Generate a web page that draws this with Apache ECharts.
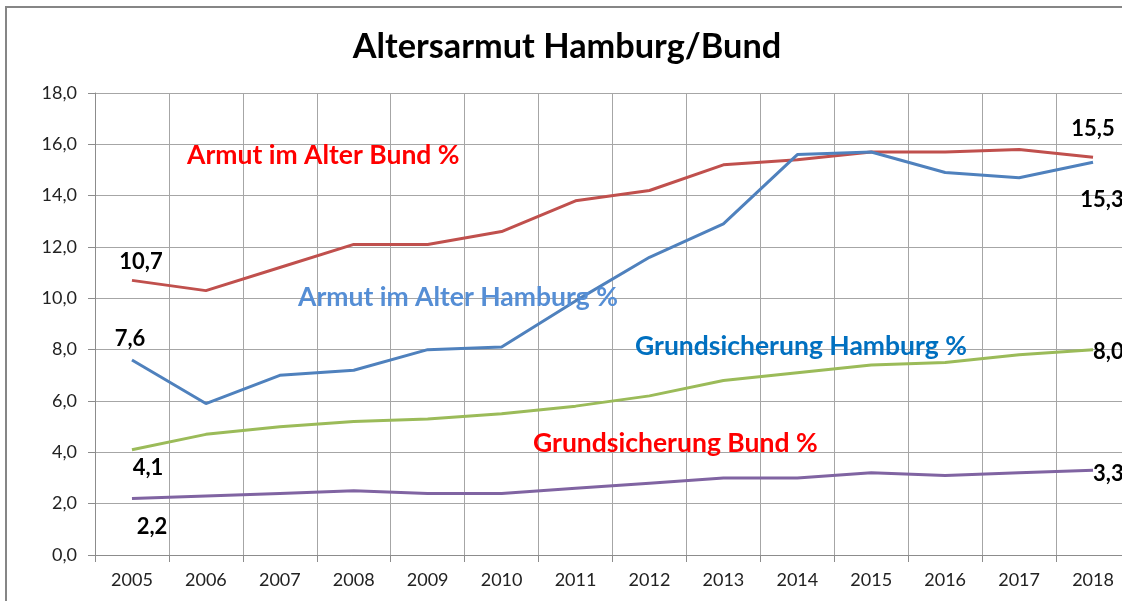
<!DOCTYPE html>
<html>
<head>
<meta charset="utf-8">
<script src="https://cdn.jsdelivr.net/npm/echarts@6/dist/echarts.min.js"></script>
<style>
  html, body { margin: 0; padding: 0; background: #fff; }
  #altersarmut { width: 1122px; height: 601px; }
</style>
</head>
<body>
<div id="altersarmut"></div>
<script>
var jahre = ['2005', '2006', '2007', '2008', '2009', '2010', '2011', '2012', '2013', '2014', '2015', '2016', '2017', '2018'];
var armutBund = [10.7, 10.3, 11.2, 12.1, 12.1, 12.6, 13.8, 14.2, 15.2, 15.4, 15.7, 15.7, 15.8, 15.5];
var armutHamburg = [7.6, 5.9, 7.0, 7.2, 8.0, 8.1, 9.9, 11.6, 12.9, 15.6, 15.7, 14.9, 14.7, 15.3];
var grundHamburg = [4.1, 4.7, 5.0, 5.2, 5.3, 5.5, 5.8, 6.2, 6.8, 7.1, 7.4, 7.5, 7.8, 8.0];
var grundBund = [2.2, 2.3, 2.4, 2.5, 2.4, 2.4, 2.6, 2.8, 3.0, 3.0, 3.2, 3.1, 3.2, 3.3];

var schrift = 'Lato, "Open Sans", sans-serif';

function komma(v) {
    return v.toFixed(1).replace('.', ',');
}

// nur erster und letzter Wert bekommen eine Beschriftung
function mitLabels(werte, ersterLabel, letzterLabel) {
    return werte.map(function (v, i) {
        var item = { value: v };
        var lab = null;
        if (i === 0) lab = ersterLabel;
        if (i === werte.length - 1) lab = letzterLabel;
        if (lab) {
            item.label = Object.assign({
                show: true,
                color: '#000',
                fontWeight: 'bold',
                fontSize: 22,
                fontFamily: schrift,
                formatter: function (p) { return komma(p.value); }
            }, lab);
        }
        return item;
    });
}

function linie(name, farbe, daten) {
    return {
        name: name,
        type: 'line',
        data: daten,
        symbol: 'circle',
        symbolSize: 0,
        showSymbol: true,
        smooth: false,
        lineStyle: { color: farbe, width: 3 },
        itemStyle: { color: farbe },
        label: { show: false },
        emphasis: { disabled: true },
        z: 3
    };
}

var chart = echarts.init(document.getElementById('altersarmut'));

option = {
    animation: false,
    backgroundColor: '#fff',
    // Diagramm ragt rechts über den Bildrand hinaus
    grid: { left: 95, top: 93, width: 1035, height: 462, containLabel: false, outerBoundsMode: 'none' },
    xAxis: {
        type: 'category',
        data: jahre,
        boundaryGap: true,
        axisLine: { lineStyle: { color: '#8c8c8c', width: 1 } },
        axisTick: { show: true, interval: 0, length: 7, lineStyle: { color: '#8c8c8c' } },
        axisLabel: { interval: 0, color: '#222', fontSize: 18, fontFamily: schrift, margin: 16 },
        splitLine: { show: true, interval: 0, lineStyle: { color: '#a6a6a6', width: 1 } }
    },
    yAxis: {
        type: 'value',
        min: 0,
        max: 18,
        interval: 2,
        axisLine: { show: true, lineStyle: { color: '#8c8c8c' } },
        axisTick: { show: true, length: 7, lineStyle: { color: '#8c8c8c' } },
        axisLabel: {
            color: '#222', fontSize: 18, fontFamily: schrift, margin: 18,
            formatter: function (v) { return komma(v); }
        },
        splitLine: { show: true, lineStyle: { color: '#a6a6a6', width: 1 } }
    },
    series: [
        linie('Armut im Alter Bund %', '#c0504d', mitLabels(armutBund,
            { position: 'top', distance: 5, offset: [9, -2] },
            { position: 'top', distance: 17, offset: [0, 0] })),
        linie('Armut im Alter Hamburg %', '#4f81bd', mitLabels(armutHamburg,
            { position: 'top', distance: 10, offset: [-2, 0] },
            { position: 'bottom', distance: 5, offset: [9, 22] })),
        linie('Grundsicherung Hamburg %', '#9bbb59', mitLabels(grundHamburg,
            { position: 'bottom', distance: 5, offset: [16, 2] },
            { position: 'right', distance: 0, offset: [0, 2] })),
        linie('Grundsicherung Bund %', '#8064a2', mitLabels(grundBund,
            { position: 'bottom', distance: 5, offset: [20, 12] },
            { position: 'right', distance: 0, offset: [0, 4] }))
    ],
    graphic: [
        {
            type: 'rect', z: -1, silent: true,
            shape: { x: 6, y: 7, width: 1300, height: 800 },
            style: { fill: 'none', stroke: '#868686', lineWidth: 2 }
        },
        {
            type: 'text', silent: true,
            style: { x: 567, y: 47, text: 'Altersarmut Hamburg/Bund', fill: '#000',
                font: 'bold 34.3px ' + schrift, align: 'center', verticalAlign: 'middle' }
        },
        {
            type: 'text', silent: true, z: 10,
            style: { x: 187, y: 155, text: 'Armut im Alter Bund %', fill: '#ff0000',
                font: 'bold 26.5px ' + schrift, verticalAlign: 'middle' }
        },
        {
            type: 'text', silent: true, z: 10,
            style: { x: 298, y: 297, text: 'Armut im Alter Hamburg %', fill: '#558ed5',
                font: 'bold 26.5px ' + schrift, verticalAlign: 'middle' }
        },
        {
            type: 'text', silent: true, z: 10,
            style: { x: 635, y: 346, text: 'Grundsicherung Hamburg %', fill: '#0070c0',
                font: 'bold 26.5px ' + schrift, verticalAlign: 'middle' }
        },
        {
            type: 'text', silent: true, z: 10,
            style: { x: 533, y: 443, text: 'Grundsicherung Bund %', fill: '#ff0000',
                font: 'bold 26.5px ' + schrift, verticalAlign: 'middle' }
        }
    ]
};
chart.setOption(option);
</script>
</body>
</html>
